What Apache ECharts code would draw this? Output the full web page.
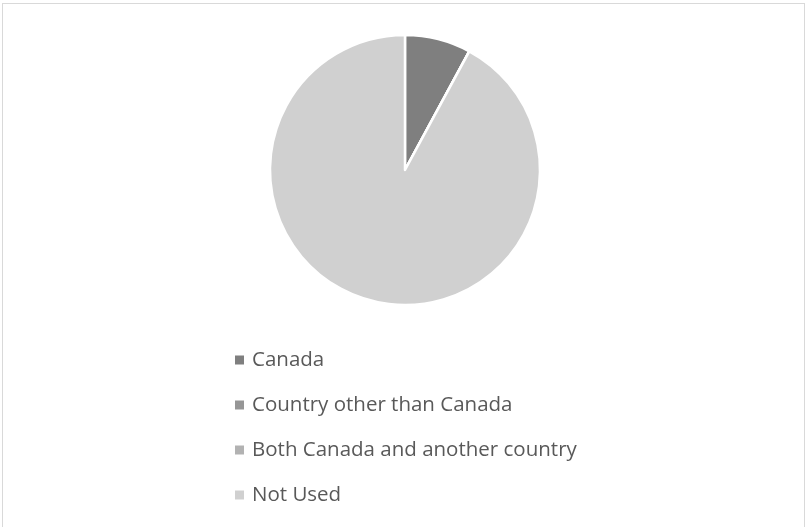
<!DOCTYPE html>
<html>
<head>
<meta charset="utf-8">
<script src="https://cdn.jsdelivr.net/npm/echarts@6/dist/echarts.min.js"></script>
<style>
  html, body { margin: 0; padding: 0; background: #ffffff; }
  #frame { position: absolute; left: 2px; top: 3px; width: 803px; height: 530px; border: 1px solid #d9d9d9; box-sizing: border-box; }
  #chart { width: 809px; height: 527px; }
</style>
</head>
<body>
<div id="frame"></div>
<div id="chart"></div>
<script>
// Where the service was used
const categories = ['Canada', 'Country other than Canada', 'Both Canada and another country', 'Not Used'];
const values = [7.9, 0, 0, 92.1];
const colors = ['#7f7f7f', '#969696', '#b2b2b2', '#d0d0d0'];

const chart = echarts.init(document.getElementById('chart'), null, { renderer: 'canvas' });

chart.setOption({
  animation: false,
  color: colors,
  legend: {
    orient: 'vertical',
    left: 235,
    top: 349,
    padding: 0,
    icon: 'rect',
    itemWidth: 9,
    itemHeight: 9,
    itemGap: 23,
    itemStyle: { borderWidth: 0 },
    data: categories,
    textStyle: {
      fontFamily: 'Open Sans',
      fontSize: 20.5,
      color: '#595959',
      lineHeight: 22,
      padding: [0, 0, 0, 3]
    }
  },
  series: [{
    type: 'pie',
    center: [405, 170],
    radius: 135,
    startAngle: 90,
    clockwise: true,
    label: { show: false },
    labelLine: { show: false },
    emphasis: { disabled: true },
    itemStyle: { borderColor: '#ffffff', borderWidth: 2.5 },
    data: categories.map((name, i) => ({ name, value: values[i] }))
  }]
});
</script>
</body>
</html>
